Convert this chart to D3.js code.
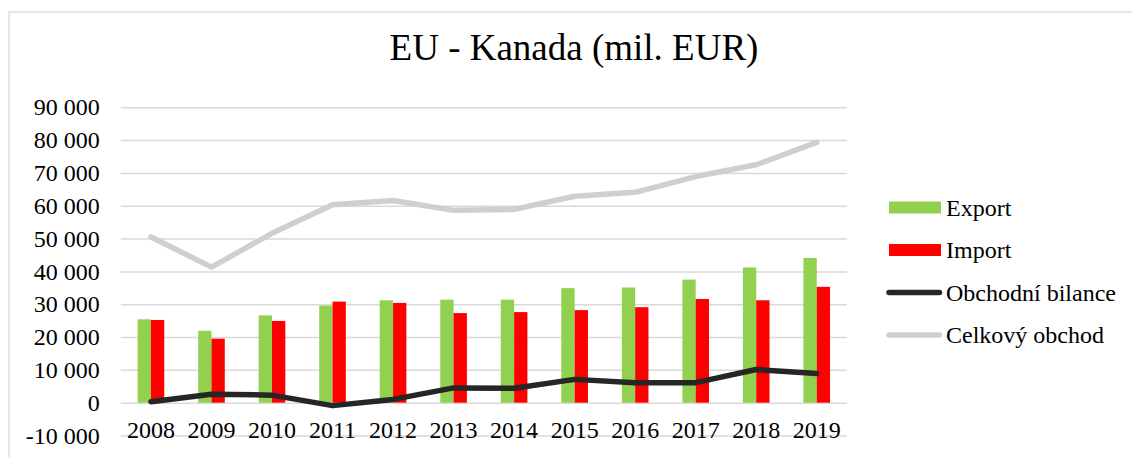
<!DOCTYPE html>
<html>
<head>
<meta charset="utf-8">
<script src="https://cdn.jsdelivr.net/npm/d3@7"></script>
<style>
  body { margin: 0; background: #fff; }
  svg { display: block; font-family: "Liberation Serif", "Times New Roman", serif; }
</style>
</head>
<body>
<svg></svg>
<script>
var years = ['2008', '2009', '2010', '2011', '2012', '2013', '2014', '2015', '2016', '2017', '2018', '2019'];
var exportValues = [25400, 21900, 26600, 29600, 31200, 31400, 31400, 34900, 35100, 37500, 41200, 44100];
var importValues = [25200, 19500, 24900, 30800, 30400, 27300, 27600, 28200, 29100, 31600, 31200, 35300];
var balanceValues = [300, 2600, 2300, -900, 1000, 4500, 4400, 7100, 6100, 6100, 10100, 8900];
var totalValues = [50500, 41300, 51600, 60300, 61600, 58600, 58900, 62900, 64100, 68900, 72500, 79300];
var yTicks = [-10000, 0, 10000, 20000, 30000, 40000, 50000, 60000, 70000, 80000, 90000];

var width = 1132;
var height = 457;
var plotLeft = 120.7;
var plotRight = 847;
var plotTop = 107.3;
var plotBottom = 435.5;

var svg = d3.select('svg')
    .attr('width', width)
    .attr('height', height);

// chart frame (right and bottom edges fall outside the picture)
svg.append('rect')
    .attr('x', 9)
    .attr('y', 12)
    .attr('width', 1140)
    .attr('height', 460)
    .attr('fill', 'none')
    .attr('stroke', '#d9d9d9')
    .attr('stroke-width', 1.3);

var xScale = d3.scaleBand()
    .domain(years)
    .range([plotLeft, plotRight]);

var yScale = d3.scaleLinear()
    .domain([-10000, 90000])
    .range([plotBottom, plotTop]);

var fmt = d => d3.format(',')(d).replace(/,/g, ' ').replace('−', '-');

var yAxis = d3.axisLeft(yScale)
    .tickValues(yTicks)
    .tickSize(-(plotRight - plotLeft))
    .tickSizeOuter(0)
    .tickPadding(21)
    .tickFormat(fmt);

var gy = svg.append('g')
    .attr('transform', `translate(${plotLeft},0)`)
    .call(yAxis);
gy.select('.domain').remove();
gy.selectAll('line')
    .attr('stroke', '#d9d9d9')
    .attr('stroke-width', 1.5);
gy.selectAll('text')
    .attr('fill', '#000')
    .style('font-size', '24px')
    .style('font-family', '"Liberation Serif", serif');

// category labels
svg.append('g')
  .selectAll('text')
    .data(years)
    .enter()
    .append('text')
      .attr('x', d => xScale(d) + xScale.bandwidth() / 2)
      .attr('y', 438)
      .style('text-anchor', 'middle')
      .style('font-size', '24px')
      .text(d => d);

var barW = 13.3;

svg.append('g')
  .selectAll('rect')
    .data(exportValues)
    .enter()
    .append('rect')
      .attr('x', (d, i) => xScale(years[i]) + xScale.bandwidth() / 2 - barW)
      .attr('y', d => yScale(d))
      .attr('width', barW)
      .attr('height', d => yScale(0) - yScale(d))
      .attr('fill', '#92d050');

svg.append('g')
  .selectAll('rect')
    .data(importValues)
    .enter()
    .append('rect')
      .attr('x', (d, i) => xScale(years[i]) + xScale.bandwidth() / 2)
      .attr('y', d => yScale(d))
      .attr('width', barW)
      .attr('height', d => yScale(0) - yScale(d))
      .attr('fill', '#ff0000');

var line = d3.line()
    .x((d, i) => xScale(years[i]) + xScale.bandwidth() / 2)
    .y(d => yScale(d));

svg.append('path')
    .datum(totalValues)
    .attr('d', line)
    .attr('fill', 'none')
    .attr('stroke', '#d0cece')
    .attr('stroke-width', 5.5)
    .attr('stroke-linejoin', 'round')
    .attr('stroke-linecap', 'round');

svg.append('path')
    .datum(balanceValues)
    .attr('d', line)
    .attr('fill', 'none')
    .attr('stroke', '#262626')
    .attr('stroke-width', 5.5)
    .attr('stroke-linejoin', 'round')
    .attr('stroke-linecap', 'round');

// title
svg.append('text')
    .attr('x', 574)
    .attr('y', 60)
    .style('text-anchor', 'middle')
    .style('font-size', '37px')
    .text('EU - Kanada (mil. EUR)');

// legend
var legendItems = [
    { name: 'Export', type: 'bar', color: '#92d050' },
    { name: 'Import', type: 'bar', color: '#ff0000' },
    { name: 'Obchodní bilance', type: 'line', color: '#262626' },
    { name: 'Celkový obchod', type: 'line', color: '#d0cece' }
];

var legend = svg.append('g')
  .selectAll('g')
    .data(legendItems)
    .enter()
    .append('g')
      .attr('transform', (d, i) => `translate(0,${207.5 + i * 42.5})`);

legend.filter(d => d.type === 'bar')
    .append('rect')
      .attr('x', 889)
      .attr('y', -6)
      .attr('width', 52)
      .attr('height', 12)
      .attr('fill', d => d.color);

legend.filter(d => d.type === 'line')
    .append('line')
      .attr('x1', 889)
      .attr('x2', 939.5)
      .attr('stroke', d => d.color)
      .attr('stroke-width', 5.5)
      .attr('stroke-linecap', 'round');

legend.append('text')
    .attr('x', 946)
    .attr('dy', '0.35em')
    .style('font-size', '24px')
    .text(d => d.name);
</script>
</body>
</html>
